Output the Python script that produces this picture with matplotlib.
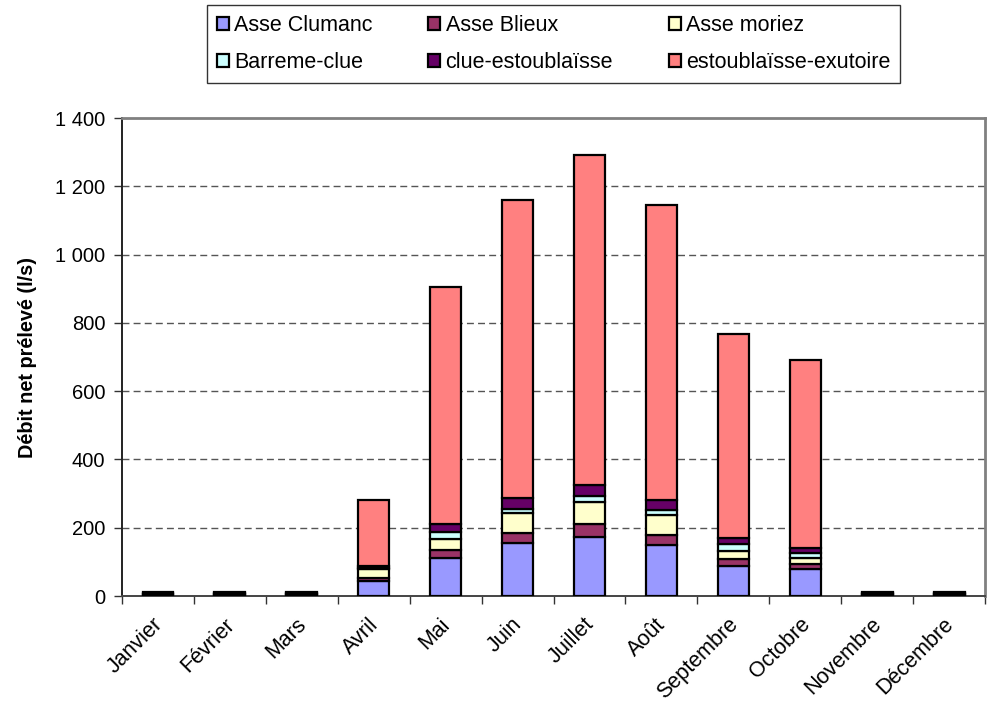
import matplotlib
matplotlib.use("Agg")
import matplotlib.pyplot as plt
import matplotlib.transforms as mtransforms
from matplotlib.ticker import FuncFormatter
import numpy as np

plt.rcParams['font.family'] = ['Liberation Sans', 'DejaVu Sans']

months = ["Janvier", "Février", "Mars", "Avril", "Mai", "Juin", "Juillet",
          "Août", "Septembre", "Octobre", "Novembre", "Décembre"]

series_names = ["Asse Clumanc", "Asse Blieux", "Asse moriez",
                "Barreme-clue", "clue-estoublaïsse", "estoublaïsse-exutoire"]

asse_clumanc = [2, 2, 2, 45, 110, 155, 173, 149, 87, 79, 2, 2]
asse_blieux = [2, 2, 2, 8, 25, 29, 37, 30, 20, 15, 2, 2]
asse_moriez = [2, 2, 2, 25, 31, 58, 66, 58, 24, 17, 2, 2]
barreme_clue = [2, 2, 2, 3, 22, 12, 18, 15, 20, 16, 2, 2]
clue_estoublaisse = [2, 2, 2, 6, 23, 32, 31, 29, 18, 15, 2, 2]
estoublaisse_exutoire = [2, 2, 2, 195, 694, 874, 967, 864, 598, 549, 2, 2]

colors = ["#9999FF", "#993366", "#FFFFCC", "#CCFFFF", "#660066", "#FF8080"]

series = [asse_clumanc, asse_blieux, asse_moriez, barreme_clue,
          clue_estoublaisse, estoublaisse_exutoire]

fig = plt.figure(figsize=(9.89, 7.03), dpi=100)
ax = fig.add_axes([0.1234, 0.1522, 0.996 - 0.1234, 0.8321 - 0.1522])

x = np.arange(len(months))
bottom = np.zeros(len(months))
handles = []
for name, vals, col in zip(series_names, series, colors):
    vals = np.array(vals, dtype=float)
    b = ax.bar(x, vals, bottom=bottom, width=0.43, color=col,
               edgecolor="black", linewidth=1.6, label=name, zorder=3)
    handles.append(b)
    bottom += vals

ax.set_xlim(-0.5, len(months) - 0.5)
ax.set_ylim(0, 1400)
ax.set_yticks(np.arange(0, 1401, 200))
ax.yaxis.set_major_formatter(FuncFormatter(
    lambda v, p: f"{int(v):,}".replace(",", " ")))

for yv in range(200, 1400, 200):
    ax.axhline(yv, color="#555555", linewidth=1.0,
               linestyle=(0, (5, 3)), zorder=1)

# month labels under each bar, ticks on category boundaries
ax.set_xticks(x)
ax.set_xticklabels(months, rotation=45, ha="right", rotation_mode="anchor",
                   fontsize=15.5)
ax.tick_params(axis="x", which="major", length=0, pad=13)
shift = mtransforms.ScaledTranslation(-6 / 100, 0, fig.dpi_scale_trans)
for lab in ax.get_xticklabels():
    lab.set_transform(lab.get_transform() + shift)
ax.set_xticks(np.arange(-0.5, len(months) + 0.5, 1), minor=True)
ax.tick_params(axis="x", which="minor", length=6, width=1, color="#333333")
ax.tick_params(axis="y", length=6, width=1, labelsize=14.5, pad=6,
               color="#333333")

ax.spines["left"].set_color("#222222")
ax.spines["bottom"].set_color("#444444")
ax.spines["left"].set_linewidth(1.4)
ax.spines["bottom"].set_linewidth(1.4)
ax.spines["top"].set_color("#808080")
ax.spines["right"].set_color("#808080")
ax.spines["top"].set_linewidth(2)
ax.spines["right"].set_linewidth(2)

ax.set_ylabel("Débit net prélevé (l/s)", fontsize=14.3, fontweight="bold",
              labelpad=13)

# legend filled row by row: reorder for matplotlib's column-major layout
order = [0, 3, 1, 4, 2, 5]
leg = fig.legend(handles=[handles[i] for i in order],
                 labels=[series_names[i] for i in order], ncol=3,
                 loc="upper left", bbox_to_anchor=(207 / 989, 1 - 5 / 703),
                 borderaxespad=0.0,
                 fontsize=15.5, frameon=True, fancybox=False,
                 handlelength=0.55, handleheight=0.55, handletextpad=0.25,
                 columnspacing=2.6, borderpad=0.45, labelspacing=0.75)
leg.get_frame().set_edgecolor("black")
leg.get_frame().set_linewidth(1.0)

fig.savefig("out.png", dpi=100)
